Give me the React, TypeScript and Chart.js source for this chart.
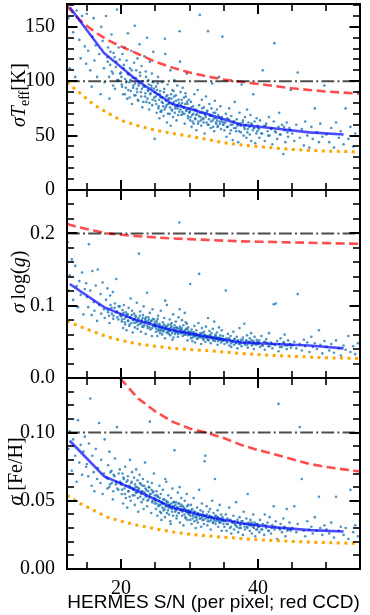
import React, { useEffect, useRef } from "react";
import { Chart, registerables } from "chart.js";

Chart.register(...registerables);

// ---------------- DATA ----------------
// S/N of each star (shared by the three panels)
const snr = [
  12.2, 12.3, 12.5, 12.8, 13.0, 13.3, 13.5, 13.7, 13.9, 14.1, 14.3, 14.5, 14.7, 14.9,
  15.0, 15.2, 15.3, 15.5, 15.7, 15.8, 16.0, 16.1, 16.3, 16.5, 16.6, 16.8, 17.0, 17.1, 17.3,
  17.5, 17.6, 17.8, 18.0, 18.1, 18.3, 18.4, 18.6, 18.8, 18.9, 19.1, 19.3, 19.4, 19.6, 19.8,
  20.0, 20.1, 20.2, 20.3, 20.4, 20.5, 20.6, 20.7, 20.8, 20.9, 21.0, 21.1, 21.2, 21.3, 21.4,
  21.5, 21.6, 21.7, 21.8, 21.9, 22.0, 22.1, 22.2, 22.3, 22.4, 22.5, 22.6, 22.7, 22.8, 22.9,
  23.0, 23.1, 23.2, 23.3, 23.4, 23.5, 23.6, 23.7, 23.8, 23.9, 24.0, 24.1, 24.2, 24.3, 24.4,
  24.5, 24.6, 24.7, 24.8, 24.9,
  25.0, 25.1, 25.2, 25.3, 25.4, 25.5, 25.6, 25.7, 25.8, 25.9, 26.0, 26.1, 26.2, 26.3, 26.4,
  26.5, 26.6, 26.7, 26.8, 26.9, 27.0, 27.1, 27.2, 27.3, 27.4, 27.5, 27.6, 27.7, 27.8, 27.9,
  28.0, 28.1, 28.2, 28.3, 28.4, 28.5, 28.6, 28.7, 28.8, 28.9, 29.0, 29.1, 29.2, 29.3, 29.4,
  29.5, 29.6, 29.7, 29.8, 29.9,
  25.35, 25.85, 26.45, 26.95, 27.25, 27.65, 28.15, 28.55, 29.05, 29.45,
  30.0, 30.1, 30.2, 30.3, 30.4, 30.5, 30.6, 30.7, 30.8, 30.9, 31.0, 31.1, 31.2, 31.3, 31.4,
  31.5, 31.6, 31.7, 31.8, 31.9, 32.0, 32.1, 32.2, 32.3, 32.4, 32.5, 32.6, 32.7, 32.8, 32.9,
  33.0, 33.1, 33.2, 33.3, 33.4, 33.5, 33.6, 33.7, 33.8, 33.9, 34.0, 34.1, 34.2, 34.3, 34.4,
  34.5, 34.6, 34.7, 34.8, 34.9,
  35.0, 35.1, 35.3, 35.4, 35.5, 35.6, 35.8, 35.9, 36.0, 36.1, 36.3, 36.4, 36.5, 36.6, 36.8,
  36.9, 37.0, 37.1, 37.3, 37.4, 37.5, 37.6, 37.8, 37.9, 38.0, 38.1, 38.3, 38.4, 38.5, 38.6,
  38.8, 38.9, 39.0, 39.1, 39.3, 39.4, 39.5, 39.6, 39.8, 39.9,
  40.0, 40.2, 40.3, 40.5, 40.7, 40.9, 41.0, 41.2, 41.4, 41.6, 41.7, 41.9, 42.1, 42.3, 42.4,
  42.6, 42.8, 43.0, 43.1, 43.3, 43.5, 43.7, 43.9, 44.0, 44.2, 44.4, 44.6, 44.8,
  45.0, 45.3, 45.6, 45.8, 46.1, 46.4, 46.7, 46.9, 47.2, 47.5, 47.8, 48.0, 48.3, 48.6, 48.9,
  49.1, 49.4, 49.7,
  50.0, 50.4, 50.7, 51.1, 51.4, 51.8, 52.1, 52.5, 52.8, 53.2, 53.5, 53.9, 54.2, 54.6,
];

// sigma Teff [K] of each star
const sigmaTeff = [
  150, 158, 112, 178, 145, 104, 165, 182, 138, 121, 160, 190, 132, 116,
  162, 128, 171, 110, 95, 141, 158, 119, 133, 104, 176, 125, 88, 150, 137,
  112, 99, 160, 122, 131, 84, 115, 143, 107, 126, 93, 118, 166, 101, 120,
  108, 97, 125, 88, 115, 131, 102, 94, 119, 84, 144, 106, 99, 112, 91,
  128, 79, 103, 96, 117, 151, 87, 110, 93, 121, 82, 98, 134, 105, 90,
  114, 76, 100, 95, 123, 86, 109, 81, 140, 92, 101, 74, 118, 89, 96,
  107, 83, 127, 93, 47,
  82, 95, 71, 88, 104, 77, 66, 91, 85, 73, 99, 80, 68, 93, 139,
  76, 86, 62, 97, 79, 84, 70, 110, 88, 74, 92, 67, 81, 101, 75,
  87, 64, 96, 78, 83, 72, 118, 90, 69, 80, 94, 76, 85, 61, 89,
  73, 107, 79, 66, 83,
  98, 72, 125, 84, 59, 91, 77, 146, 70, 86,
  72, 64, 81, 58, 69, 77, 61, 88, 66, 74, 55, 70, 92, 63, 78,
  161, 67, 59, 83, 71, 65, 76, 52, 69, 86, 62, 73, 146, 60, 79,
  68, 57, 75, 98, 64, 71, 54, 82, 66, 61, 74, 58, 69, 104, 63,
  77, 56, 67, 141, 60,
  62, 55, 70, 49, 66, 58, 75, 52, 60, 68, 46, 63, 57, 81, 54,
  65, 59, 44, 71, 61, 53, 97, 64, 50, 58, 67, 48, 74, 56, 62,
  51, 69, 45, 60, 88, 57, 63, 43, 66, 54,
  57, 48, 64, 52, 110, 59, 45, 61, 54, 67, 50, 56, 42, 63, 135,
  53, 47, 58, 71, 51, 60, 33, 55, 44, 62, 49, 57, 92,
  52, 45, 60, 108, 48, 56, 41, 63, 50, 39, 58, 47, 75, 53, 44,
  61, 49, 96,
  51, 44, 57, 39, 62, 48, 54, 42, 75, 47, 58, 40, 52, 90,
];

// sigma log(g) of each star
const sigmaLogg = [
  0.188, 0.121, 0.142, 0.164, 0.108, 0.155, 0.127, 0.098, 0.134, 0.115, 0.146, 0.088, 0.123, 0.131,
  0.112, 0.098, 0.185, 0.121, 0.087, 0.148, 0.105, 0.093, 0.128, 0.079, 0.150, 0.101, 0.116, 0.089, 0.132,
  0.095, 0.083, 0.108, 0.124, 0.091, 0.076, 0.114, 0.097, 0.119, 0.086, 0.103, 0.137, 0.092, 0.081, 0.099,
  0.085, 0.078, 0.094, 0.069, 0.101, 0.082, 0.074, 0.091, 0.066, 0.088, 0.079, 0.097, 0.072, 0.084, 0.110,
  0.076, 0.093, 0.063, 0.081, 0.089, 0.070, 0.086, 0.077, 0.104, 0.068, 0.083, 0.172, 0.075, 0.092, 0.064,
  0.080, 0.071, 0.087, 0.099, 0.073, 0.082, 0.061, 0.078, 0.118, 0.069, 0.084, 0.076, 0.090, 0.067, 0.079,
  0.058, 0.095, 0.072, 0.081, 0.074,
  0.071, 0.064, 0.079, 0.058, 0.086, 0.067, 0.075, 0.062, 0.093, 0.069, 0.060, 0.077, 0.066, 0.083, 0.055,
  0.072, 0.068, 0.101, 0.063, 0.074, 0.065, 0.081, 0.059, 0.070, 0.076, 0.053, 0.088, 0.066, 0.073, 0.061,
  0.078, 0.064, 0.069, 0.057, 0.084, 0.215, 0.071, 0.062, 0.067, 0.080, 0.058, 0.073, 0.065, 0.090, 0.060,
  0.068, 0.075, 0.052, 0.070, 0.063,
  0.082, 0.066, 0.107, 0.061, 0.074, 0.056, 0.069, 0.095, 0.064, 0.077,
  0.060, 0.130, 0.055, 0.067, 0.051, 0.063, 0.058, 0.072, 0.049, 0.061, 0.066, 0.054, 0.059, 0.076, 0.144,
  0.057, 0.062, 0.047, 0.069, 0.056, 0.053, 0.064, 0.060, 0.050, 0.071, 0.058, 0.055, 0.083, 0.052, 0.065,
  0.059, 0.048, 0.062, 0.056, 0.068, 0.054, 0.078, 0.051, 0.060, 0.057, 0.063, 0.046, 0.055, 0.070, 0.053,
  0.059, 0.049, 0.066, 0.052, 0.058,
  0.052, 0.047, 0.121, 0.055, 0.049, 0.061, 0.045, 0.053, 0.058, 0.043, 0.050, 0.064, 0.046, 0.054, 0.048,
  0.057, 0.041, 0.051, 0.069, 0.047, 0.053, 0.044, 0.056, 0.049, 0.075, 0.046, 0.052, 0.059, 0.042, 0.050,
  0.055, 0.048, 0.062, 0.045, 0.051, 0.040, 0.057, 0.047, 0.053, 0.049,
  0.047, 0.052, 0.043, 0.058, 0.045, 0.050, 0.039, 0.054, 0.048, 0.062, 0.044, 0.049, 0.041, 0.102, 0.046,
  0.103, 0.051, 0.037, 0.047, 0.055, 0.043, 0.049, 0.060, 0.045, 0.040, 0.052, 0.046, 0.042,
  0.045, 0.050, 0.041, 0.116, 0.047, 0.038, 0.053, 0.044, 0.049, 0.036, 0.057, 0.043, 0.048, 0.040, 0.066,
  0.046, 0.034, 0.051,
  0.043, 0.038, 0.047, 0.035, 0.052, 0.041, 0.031, 0.045, 0.039, 0.058, 0.036, 0.044, 0.033, 0.048,
];

// sigma [Fe/H] of each star
const sigmaFeh = [
  0.120, 0.088, 0.101, 0.072, 0.095, 0.083, 0.064, 0.109, 0.078, 0.091, 0.069, 0.086, 0.097, 0.075,
  0.077, 0.068, 0.092, 0.125, 0.061, 0.083, 0.071, 0.057, 0.088, 0.066, 0.074, 0.107, 0.063, 0.080, 0.055,
  0.070, 0.095, 0.067, 0.059, 0.076, 0.086, 0.062, 0.072, 0.051, 0.069, 0.081, 0.064, 0.104, 0.058, 0.073,
  0.062, 0.055, 0.070, 0.048, 0.066, 0.059, 0.075, 0.052, 0.064, 0.045, 0.068, 0.057, 0.061, 0.080, 0.050,
  0.063, 0.071, 0.054, 0.058, 0.067, 0.047, 0.060, 0.073, 0.056, 0.065, 0.042, 0.059, 0.069, 0.053, 0.062,
  0.049, 0.057, 0.066, 0.044, 0.061, 0.078, 0.053, 0.058, 0.046, 0.064, 0.051, 0.060, 0.108, 0.055, 0.041,
  0.063, 0.050, 0.057, 0.070, 0.048,
  0.050, 0.044, 0.057, 0.039, 0.053, 0.047, 0.061, 0.042, 0.055, 0.036, 0.048, 0.058, 0.043, 0.051, 0.038,
  0.046, 0.064, 0.041, 0.049, 0.054, 0.040, 0.047, 0.035, 0.052, 0.044, 0.059, 0.039, 0.046, 0.087, 0.042,
  0.049, 0.037, 0.045, 0.056, 0.041, 0.048, 0.034, 0.043, 0.052, 0.039, 0.046, 0.032, 0.044, 0.050, 0.038,
  0.042, 0.055, 0.036, 0.047, 0.040,
  0.053, 0.041, 0.066, 0.045, 0.033, 0.049, 0.039, 0.060, 0.043, 0.037,
  0.041, 0.036, 0.047, 0.033, 0.044, 0.039, 0.052, 0.035, 0.042, 0.030, 0.038, 0.045, 0.034, 0.040, 0.058,
  0.037, 0.043, 0.031, 0.048, 0.036, 0.040, 0.033, 0.079, 0.083, 0.039, 0.046, 0.032, 0.037, 0.042, 0.035,
  0.044, 0.029, 0.038, 0.050, 0.034, 0.041, 0.036, 0.066, 0.033, 0.039, 0.037, 0.043, 0.031, 0.035, 0.047,
  0.034, 0.040, 0.028, 0.038, 0.036,
  0.035, 0.031, 0.040, 0.028, 0.037, 0.033, 0.045, 0.030, 0.036, 0.026, 0.034, 0.039, 0.029, 0.033, 0.049,
  0.031, 0.036, 0.027, 0.038, 0.032, 0.030, 0.035, 0.025, 0.042, 0.033, 0.029, 0.037, 0.031, 0.055, 0.034,
  0.028, 0.036, 0.032, 0.026, 0.040, 0.030, 0.034, 0.024, 0.033, 0.029,
  0.031, 0.027, 0.036, 0.029, 0.033, 0.025, 0.040, 0.030, 0.034, 0.028, 0.038, 0.026, 0.032, 0.046, 0.029,
  0.035, 0.022, 0.121, 0.030, 0.033, 0.027, 0.037, 0.031, 0.024, 0.044, 0.029, 0.034, 0.028,
  0.030, 0.046, 0.027, 0.033, 0.104, 0.066, 0.028, 0.024, 0.035, 0.029, 0.031, 0.026, 0.038, 0.028, 0.053,
  0.030, 0.025, 0.032,
  0.029, 0.026, 0.034, 0.023, 0.053, 0.028, 0.031, 0.025, 0.030, 0.022, 0.058, 0.027, 0.032, 0.024,
];

// dense core of the distribution (second group of stars)
const snrCore = [
  18.05, 18.25, 18.45, 18.65, 18.85, 19.05, 19.25, 19.45, 19.65, 19.85,
  20.05, 20.15, 20.35, 20.55, 20.75, 20.95, 21.05, 21.25, 21.35, 21.55, 21.75, 21.95, 22.05, 22.15, 22.35,
  22.45, 22.55, 22.75, 22.95, 23.05, 23.15, 23.25, 23.45, 23.55, 23.65, 23.85, 23.95, 24.05, 24.15, 24.25,
  24.45, 24.55, 24.65, 24.85, 24.95,
  25.05, 25.15, 25.25, 25.45, 25.55, 25.65, 25.75, 25.95, 26.05, 26.15, 26.25, 26.35, 26.55, 26.65, 26.75,
  26.85, 27.05, 27.15, 27.35, 27.45, 27.55, 27.75, 27.85, 27.95, 28.05, 28.25, 28.35, 28.45, 28.65, 28.75,
  28.85, 28.95, 29.15, 29.25, 29.35, 29.55, 29.65, 29.75, 29.85, 29.95,
  30.05, 30.15, 30.25, 30.45, 30.55, 30.65, 30.85, 30.95, 31.05, 31.25, 31.35, 31.55, 31.65, 31.85, 31.95,
  32.05, 32.25, 32.35, 32.55, 32.65, 32.85, 32.95, 33.15, 33.25, 33.45, 33.55, 33.75, 33.85, 34.05, 34.15,
  34.35, 34.45, 34.65, 34.75, 34.95,
  35.25, 35.45, 35.75, 36.05, 36.25, 36.55, 36.75, 37.05, 37.25, 37.45, 37.75, 38.05, 38.25, 38.45, 38.75,
  39.05, 39.25, 39.45, 39.75, 39.95,
  40.15, 40.6, 41.1, 41.5, 42.0, 42.5, 43.2, 43.8, 44.3, 44.7,
];
const teffCore = [
  118, 104, 127, 109, 96, 122, 113, 101, 131, 107,
  104, 95, 112, 88, 99, 107, 92, 85, 101, 110, 94, 87, 98, 103, 90,
  83, 96, 108, 86, 93, 100, 81, 95, 89, 104, 84, 91, 97, 80, 88,
  94, 78, 99, 85, 90,
  86, 79, 92, 75, 83, 88, 72, 81, 85, 77, 90, 74, 82, 78, 87,
  70, 80, 76, 84, 73, 79, 86, 71, 77, 82, 75, 69, 80, 74, 78,
  83, 72, 76, 70, 79, 73, 81, 68, 75, 71,
  72, 67, 76, 63, 70, 74, 65, 69, 73, 61, 68, 71, 64, 75, 66,
  62, 70, 67, 72, 60, 65, 69, 63, 68, 58, 66, 71, 62, 64, 59,
  67, 61, 65, 63, 60,
  62, 58, 65, 55, 60, 63, 57, 61, 54, 59, 62, 56, 60, 53, 58,
  61, 55, 57, 52, 59,
  56, 52, 59, 50, 57, 54, 51, 58, 53, 55,
];
const loggCore = [
  0.094, 0.086, 0.101, 0.089, 0.082, 0.097, 0.091, 0.084, 0.099, 0.087,
  0.086, 0.081, 0.090, 0.077, 0.084, 0.088, 0.079, 0.074, 0.083, 0.087, 0.080, 0.076, 0.082, 0.085, 0.078,
  0.073, 0.081, 0.086, 0.075, 0.079, 0.083, 0.071, 0.077, 0.080, 0.084, 0.072, 0.078, 0.081, 0.070, 0.076,
  0.079, 0.069, 0.082, 0.074, 0.077,
  0.072, 0.068, 0.075, 0.065, 0.070, 0.073, 0.066, 0.069, 0.071, 0.064, 0.074, 0.067, 0.070, 0.063, 0.072,
  0.066, 0.068, 0.065, 0.071, 0.062, 0.067, 0.069, 0.064, 0.066, 0.070, 0.063, 0.061, 0.068, 0.065, 0.067,
  0.069, 0.062, 0.064, 0.060, 0.066, 0.063, 0.068, 0.059, 0.065, 0.061,
  0.062, 0.059, 0.064, 0.056, 0.060, 0.063, 0.057, 0.059, 0.061, 0.055, 0.058, 0.060, 0.056, 0.062, 0.057,
  0.054, 0.059, 0.056, 0.058, 0.053, 0.057, 0.059, 0.055, 0.057, 0.052, 0.056, 0.058, 0.054, 0.055, 0.051,
  0.056, 0.053, 0.055, 0.052, 0.054,
  0.053, 0.050, 0.055, 0.048, 0.051, 0.054, 0.049, 0.052, 0.047, 0.050, 0.053, 0.048, 0.051, 0.046, 0.050,
  0.052, 0.047, 0.049, 0.046, 0.050,
  0.048, 0.045, 0.050, 0.044, 0.047, 0.046, 0.043, 0.049, 0.045, 0.047,
];
const fehCore = [
  0.066, 0.060, 0.071, 0.063, 0.057, 0.068, 0.062, 0.059, 0.070, 0.064,
  0.063, 0.058, 0.067, 0.055, 0.061, 0.065, 0.057, 0.053, 0.060, 0.064, 0.059, 0.054, 0.062, 0.056, 0.060,
  0.052, 0.058, 0.063, 0.055, 0.057, 0.061, 0.051, 0.056, 0.059, 0.054, 0.050, 0.057, 0.060, 0.053, 0.055,
  0.058, 0.049, 0.056, 0.052, 0.054,
  0.051, 0.048, 0.054, 0.046, 0.050, 0.052, 0.047, 0.049, 0.045, 0.051, 0.048, 0.044, 0.050, 0.046, 0.049,
  0.043, 0.047, 0.045, 0.048, 0.042, 0.046, 0.049, 0.044, 0.047, 0.043, 0.045, 0.048, 0.041, 0.046, 0.044,
  0.047, 0.042, 0.045, 0.040, 0.044, 0.043, 0.046, 0.041, 0.043, 0.042,
  0.041, 0.039, 0.043, 0.037, 0.040, 0.042, 0.038, 0.040, 0.036, 0.041, 0.039, 0.037, 0.040, 0.038, 0.042,
  0.036, 0.039, 0.037, 0.040, 0.035, 0.038, 0.039, 0.036, 0.038, 0.034, 0.037, 0.039, 0.035, 0.036, 0.038,
  0.034, 0.037, 0.035, 0.036, 0.033,
  0.035, 0.033, 0.036, 0.031, 0.034, 0.035, 0.032, 0.034, 0.030, 0.033, 0.035, 0.031, 0.033, 0.030, 0.032,
  0.034, 0.031, 0.032, 0.029, 0.033,
  0.031, 0.029, 0.032, 0.028, 0.030, 0.031, 0.029, 0.030, 0.028, 0.029,
];

// binned medians (blue solid lines)
const binSnr = [12.5, 17.5, 22.5, 27.5, 32.5, 37.5, 42.5, 47.5, 52.5];
const medianTeff = [168, 126, 100, 79, 70, 60, 56.5, 53, 51];
const medianLogg = [0.13, 0.098, 0.079, 0.066, 0.057, 0.049, 0.047, 0.045, 0.041];
const medianFeh = [0.094, 0.068, 0.057, 0.045, 0.0385, 0.0335, 0.0305, 0.0285, 0.0275];

// reference curves (red dashed / orange dotted)
const curveSnr = [12.1, 14, 16, 18, 20, 22.5, 25, 27.5, 30, 32.5, 35, 37.5, 40, 42.5, 45, 47.5, 50, 52.5, 55];
const redTeff = [169, 156, 146, 138, 132, 125, 118, 112.5, 108, 104.5, 101.5, 99.5, 97.5, 95.5, 93.5, 92, 90.5, 89.5, 88.5];
const orangeTeff = [99, 89, 78.5, 71, 64, 59, 55, 52, 49.5, 46.6, 43.5, 41.5, 40, 38.5, 37.3, 36.4, 35.8, 35.4, 35];
const redLogg = [0.213, 0.208, 0.204, 0.2, 0.198, 0.196, 0.1945, 0.193, 0.192, 0.191, 0.19, 0.189, 0.1885, 0.188, 0.1875, 0.187, 0.1865, 0.186, 0.1857];
const orangeLogg = [0.079, 0.071, 0.064, 0.057, 0.052, 0.047, 0.044, 0.041, 0.0395, 0.038, 0.036, 0.034, 0.0325, 0.031, 0.03, 0.029, 0.028, 0.0275, 0.027];
const redFeh = [0.208, 0.184, 0.165, 0.15, 0.139, 0.125, 0.1155, 0.108, 0.103, 0.0998, 0.096, 0.091, 0.0872, 0.084, 0.0805, 0.077, 0.0748, 0.073, 0.0714];
const orangeFeh = [0.054, 0.048, 0.043, 0.038, 0.035, 0.032, 0.0295, 0.0272, 0.0255, 0.0243, 0.0233, 0.0223, 0.0215, 0.0208, 0.0202, 0.0197, 0.0193, 0.019, 0.0188];

// horizontal limits (dash-dot)
const limitTeff = 100;
const limitLogg = 0.2;
const limitFeh = 0.1;

// axes
const xRange = [12.1, 54.9];
const xMajorTicks = [20, 40];
const xMinorTicks = [15, 20, 25, 30, 35, 40, 45, 50];
const teffTicks = [0, 50, 100, 150];
const loggTicks = [0, 0.1, 0.2];
const fehTicks = [0, 0.05, 0.1];

// ---------------- RENDERING ----------------
const SERIF = "'Liberation Serif', 'DejaVu Serif', serif";
const SANS = "'Liberation Sans', 'DejaVu Sans', sans-serif";

type Seg = { t: string; font: string; dy?: number; gap?: number };

type Spec = {
  key: string;
  top: number;
  height: number;
  padTop: number;
  padBottom: number;
  yMax: number;
  ticks: number[];
  minorStep: number;
  decimals: number;
  points: number[];
  core: number[];
  median: number[];
  red: number[];
  orange: number[];
  limit: number;
  label: Seg[];
  labelX: number;
  bottom: boolean;
};

const zip = (xs: number[], ys: number[]) =>
  ys.map((y, i) => ({ x: xs[i], y })).filter((p) => p.x !== undefined);

function drawRotated(ctx: CanvasRenderingContext2D, segs: Seg[], cx: number, cy: number) {
  ctx.save();
  ctx.translate(cx, cy);
  ctx.rotate(-Math.PI / 2);
  ctx.fillStyle = "#000";
  ctx.textBaseline = "alphabetic";
  ctx.textAlign = "left";
  const widths = segs.map((s) => {
    ctx.font = s.font;
    return ctx.measureText(s.t).width + (s.gap || 0);
  });
  const total = widths.reduce((a, b) => a + b, 0);
  let x = -total / 2;
  segs.forEach((s, i) => {
    ctx.font = s.font;
    ctx.fillText(s.t, x, s.dy || 0);
    x += widths[i];
  });
  ctx.restore();
}

function makeFramePlugin(spec: Spec) {
  return {
    id: "frame_" + spec.key,
    afterDraw(chart: any) {
      const { ctx, chartArea: a, scales } = chart;
      const xs = scales.x;
      const ys = scales.y;
      ctx.save();
      ctx.strokeStyle = "#000";
      const seg = (x1: number, y1: number, x2: number, y2: number, w: number) => {
        ctx.lineWidth = w;
        ctx.beginPath();
        ctx.moveTo(x1, y1);
        ctx.lineTo(x2, y2);
        ctx.stroke();
      };
      // x ticks (top & bottom, inward)
      xMinorTicks.forEach((v) => {
        const px = Math.round(xs.getPixelForValue(v));
        const major = xMajorTicks.includes(v);
        const len = major ? 10 : 7;
        const w = major ? 2 : 1.6;
        seg(px, a.bottom, px, a.bottom - len, w);
        seg(px, a.top, px, a.top + len, w);
      });
      // y ticks (left & right, inward)
      const n = Math.floor(spec.yMax / spec.minorStep + 1e-6);
      for (let i = 0; i <= n; i++) {
        const v = i * spec.minorStep;
        const major = spec.ticks.some((t) => Math.abs(t - v) < spec.minorStep / 10);
        const py = Math.round(ys.getPixelForValue(v));
        const len = major ? 10.5 : 7;
        const w = major ? 2 : 1.6;
        seg(a.left, py, a.left + len, py, w);
        seg(a.right, py, a.right - len, py, w);
      }
      // frame
      ctx.lineWidth = 2;
      ctx.strokeRect(a.left, a.top, a.right - a.left, a.bottom - a.top);
      // y label
      drawRotated(ctx, spec.label, spec.labelX, (a.top + a.bottom) / 2 - 2);
      // x title
      if (spec.bottom) {
        ctx.fillStyle = "#000";
        ctx.font = "19px " + SANS;
        ctx.textAlign = "center";
        ctx.textBaseline = "alphabetic";
        ctx.fillText("HERMES S/N (per pixel; red CCD)", (a.left + a.right) / 2, a.bottom + 39);
      }
      ctx.restore();
    },
  };
}

const specs: Spec[] = [
  {
    key: "teff",
    top: 0,
    height: 200,
    padTop: 1,
    padBottom: 10,
    yMax: 171,
    ticks: teffTicks,
    minorStep: 10,
    decimals: 0,
    points: sigmaTeff,
    core: teffCore,
    median: medianTeff,
    red: redTeff,
    orange: orangeTeff,
    limit: limitTeff,
    label: [
      { t: "σ", font: "italic 20px " + SERIF },
      { t: "T", font: "italic 20px " + SERIF },
      { t: "eff", font: "14px " + SERIF, dy: 4 },
      { t: "[K]", font: "20px " + SERIF },
    ],
    labelX: 25,
    bottom: false,
  },
  {
    key: "logg",
    top: 180,
    height: 210,
    padTop: 10,
    padBottom: 12,
    yMax: 0.26,
    ticks: loggTicks,
    minorStep: 0.02,
    decimals: 1,
    points: sigmaLogg,
    core: loggCore,
    median: medianLogg,
    red: redLogg,
    orange: orangeLogg,
    limit: limitLogg,
    label: [
      { t: "σ", font: "italic 20px " + SERIF, gap: 4 },
      { t: "log(", font: "20px " + SERIF },
      { t: "g", font: "italic 20px " + SERIF },
      { t: ")", font: "20px " + SERIF },
    ],
    labelX: 25,
    bottom: false,
  },
  {
    key: "feh",
    top: 368,
    height: 247,
    padTop: 10,
    padBottom: 0,
    yMax: 0.14,
    ticks: fehTicks,
    minorStep: 0.01,
    decimals: 2,
    points: sigmaFeh,
    core: fehCore,
    median: medianFeh,
    red: redFeh,
    orange: orangeFeh,
    limit: limitFeh,
    label: [
      { t: "σ", font: "italic 20px " + SERIF },
      { t: " [Fe/H]", font: "20px " + SERIF },
    ],
    labelX: 22,
    bottom: true,
  },
];

function Panel({ spec }: { spec: Spec }) {
  const ref = useRef<HTMLCanvasElement>(null);
  useEffect(() => {
    const canvas = ref.current;
    if (!canvas) return;
    const chart = new Chart(canvas, {
      type: "scatter",
      data: {
        datasets: [
          {
            data: zip(binSnr, spec.median),
            showLine: true,
            borderColor: "rgba(0,0,255,0.7)",
            borderWidth: 2.6,
            pointRadius: 0,
            clip: 0,
          },
          {
            data: [
              { x: xRange[0], y: spec.limit },
              { x: xRange[1], y: spec.limit },
            ],
            showLine: true,
            borderColor: "rgba(0,0,0,0.7)",
            borderWidth: 2,
            borderDash: [12.8, 3.2, 2, 3.2],
            pointRadius: 0,
            clip: 0,
          },
          {
            data: zip(curveSnr, spec.red),
            showLine: true,
            borderColor: "rgba(255,0,0,0.7)",
            borderWidth: 2.6,
            borderDash: [9, 4.5],
            pointRadius: 0,
            clip: 0,
          },
          {
            data: zip(curveSnr, spec.orange),
            showLine: true,
            borderColor: "#ffa500",
            borderWidth: 3,
            borderDash: [3, 4.5],
            pointRadius: 0,
            clip: 0,
          },
          {
            data: zip(snr, spec.points).concat(zip(snrCore, spec.core)),
            showLine: false,
            pointRadius: 1.3,
            pointBorderWidth: 0,
            pointBackgroundColor: "rgba(31,119,180,0.8)",
            pointBorderColor: "rgba(31,119,180,0)",
            clip: 0,
          },
        ],
      } as any,
      options: {
        animation: false,
        responsive: false,
        devicePixelRatio: 1,
        events: [],
        layout: {
          padding: { top: spec.padTop, bottom: spec.padBottom, left: 0, right: 10 },
        },
        plugins: {
          legend: { display: false },
          tooltip: { enabled: false },
        },
        scales: {
          x: {
            type: "linear",
            min: xRange[0],
            max: xRange[1],
            display: spec.bottom,
            grid: { display: false },
            border: { display: false },
            ticks: {
              font: { family: SERIF, size: 20 },
              color: "#000",
              padding: 0,
              maxRotation: 0,
              callback: (v: any) => String(v),
            },
            afterBuildTicks: (s: any) => {
              s.ticks = xMajorTicks.map((v) => ({ value: v }));
            },
            afterFit: (s: any) => {
              s.height = spec.bottom ? 46 : 0;
              s.paddingLeft = 0;
              s.paddingRight = 0;
            },
          },
          y: {
            type: "linear",
            min: 0,
            max: spec.yMax,
            grid: { display: false },
            border: { display: false },
            ticks: {
              font: { family: SERIF, size: 20 },
              color: "#000",
              padding: 4,
              callback: (v: any) => Number(v).toFixed(spec.decimals),
            },
            afterBuildTicks: (s: any) => {
              s.ticks = spec.ticks.map((v) => ({ value: v }));
            },
            afterFit: (s: any) => {
              s.width = 67;
              s.paddingTop = 0;
              s.paddingBottom = 0;
            },
          },
        },
      } as any,
      plugins: [makeFramePlugin(spec)],
    });
    return () => chart.destroy();
  }, [spec]);
  return (
    <canvas
      ref={ref}
      width={370}
      height={spec.height}
      style={{
        position: "absolute",
        left: 0,
        top: spec.top,
        width: 370,
        height: spec.height,
        display: "block",
      }}
    />
  );
}

export default function App() {
  return (
    <div
      style={{
        position: "absolute",
        left: 0,
        top: 0,
        width: 370,
        height: 615,
        background: "#fff",
        overflow: "hidden",
      }}
    >
      {specs.map((s) => (
        <Panel key={s.key} spec={s} />
      ))}
    </div>
  );
}
